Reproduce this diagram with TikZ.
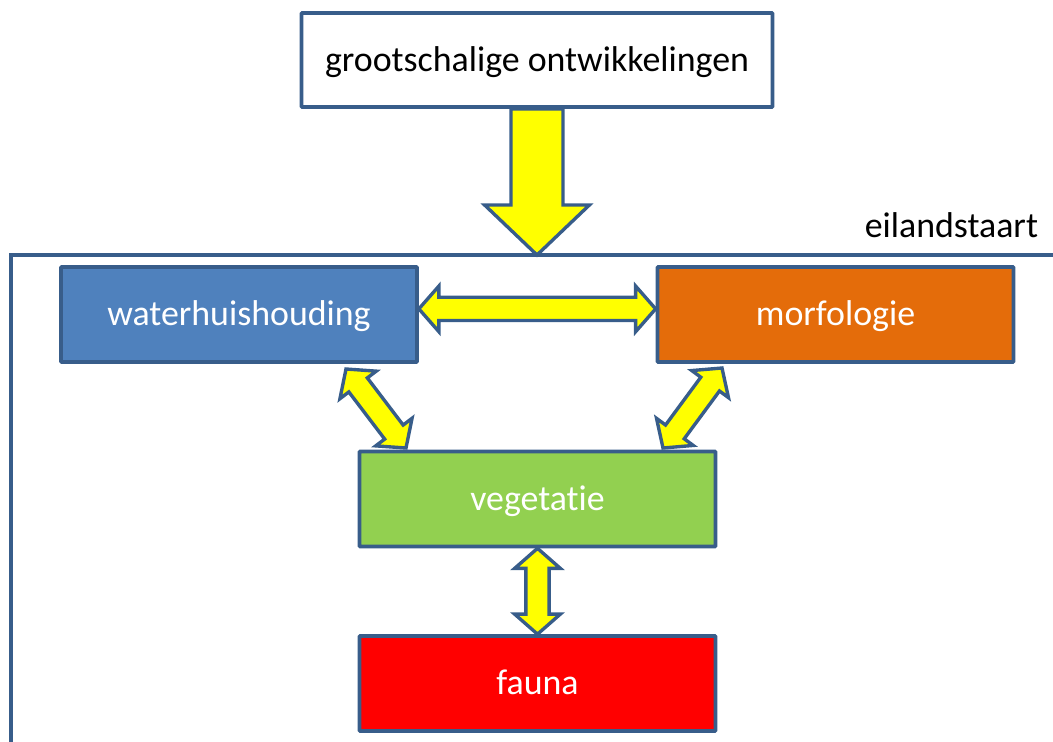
\documentclass[tikz,border=0pt]{standalone}
\usepackage{fontspec}
\setmainfont{Carlito}[Ligatures=NoCommon]
\usetikzlibrary{calc}

\definecolor{boxline}{HTML}{385D8A}
\definecolor{waterblue}{HTML}{4F81BD}
\definecolor{morforange}{HTML}{E46C0A}
\definecolor{veggreen}{HTML}{92D050}
\definecolor{faunared}{HTML}{FF0000}
\definecolor{arrowyellow}{HTML}{FFFF00}

\tikzset{
  box/.style={draw=boxline, line width=2.6pt, rounded corners=0.5pt,
    minimum width=8.9cm, minimum height=2.375cm, text=white,
    text height=16.3pt, text depth=0pt,
    font=\fontsize{25.5}{30}\selectfont},
  blockarrow/.style={fill=arrowyellow, draw=boxline, line width=2.4pt,
    line join=miter}
}

% yellow double arrow between two points
\newcommand{\dblarrow}[2]{%
  \filldraw[blockarrow] (#1)
    -- ($($(#1)!0.5cm!(#2)$)!0.57cm!90:(#2)$)
    -- ($($(#1)!0.5cm!(#2)$)!0.29cm!90:(#2)$)
    -- ($($(#2)!0.5cm!(#1)$)!0.29cm!-90:(#1)$)
    -- ($($(#2)!0.5cm!(#1)$)!0.57cm!-90:(#1)$)
    -- (#2)
    -- ($($(#2)!0.5cm!(#1)$)!0.57cm!90:(#1)$)
    -- ($($(#2)!0.5cm!(#1)$)!0.29cm!90:(#1)$)
    -- ($($(#1)!0.5cm!(#2)$)!0.29cm!-90:(#2)$)
    -- ($($(#1)!0.5cm!(#2)$)!0.57cm!-90:(#2)$)
    -- cycle;}

% big yellow single arrow
\newcommand{\bigarrow}[2]{%
  \filldraw[blockarrow] ($(#1)!0.65cm!90:(#2)$)
    -- ($($(#2)!1.25cm!(#1)$)!0.65cm!-90:(#1)$)
    -- ($($(#2)!1.25cm!(#1)$)!1.31cm!-90:(#1)$)
    -- (#2)
    -- ($($(#2)!1.25cm!(#1)$)!1.31cm!90:(#1)$)
    -- ($($(#2)!1.25cm!(#1)$)!0.65cm!90:(#1)$)
    -- ($(#1)!0.65cm!-90:(#2)$)
    -- cycle;}

\begin{document}
\begin{tikzpicture}[x=0.025cm, y=-0.025cm]
    \useasboundingbox (0,0) rectangle (1053,742);

    % the frame of the island tail
    \draw[draw=boxline, line width=2.6pt] (11,742) -- (11,255) -- (1053,255);
    \node[anchor=base east, font=\fontsize{25.5}{30}\selectfont] (tail) at (1043,237) {eilandstaart};
    \coordinate (tailtop) at (537,255);

    % the boxes
    \node[box, fill=white, text=black, minimum width=11.775cm, minimum height=2.35cm] (trend) at (537,60) {grootschalige ontwikkelingen};
    \node[box, fill=waterblue] (water) at (239,314.5) {waterhuishouding};
    \node[box, fill=morforange] (morf) at (835.5,314.5) {morfologie};
    \node[box, fill=veggreen] (veg) at (537.5,499) {vegetatie};
    \node[box, fill=faunared] (fauna) at (537.5,683.5) {fauna};

    % end points of the slanted arrows
    \coordinate (wv1) at (346,369);
    \coordinate (wv2) at (406,448);
    \coordinate (mv1) at (722,368);
    \coordinate (mv2) at (663,448);

    % draw the arrows
    \bigarrow{trend.south}{tailtop}
    \dblarrow{[yshift=4pt]water.east}{[yshift=4pt]morf.west}
    \dblarrow{wv1}{wv2}
    \dblarrow{mv1}{mv2}
    \dblarrow{veg.south}{fauna.north}
\end{tikzpicture}
\end{document}
